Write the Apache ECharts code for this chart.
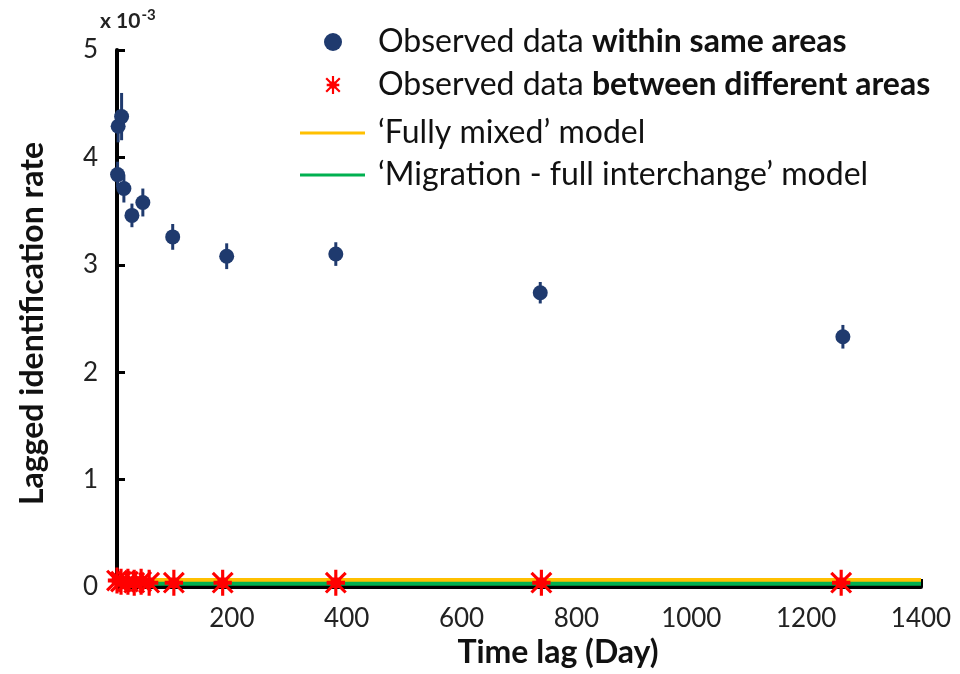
<!DOCTYPE html>
<html>
<head>
<meta charset="utf-8">
<script src="https://cdn.jsdelivr.net/npm/echarts@6/dist/echarts.min.js"></script>
<style>html,body{margin:0;padding:0;background:#fff}#c{width:960px;height:674px}</style>
</head>
<body>
<div id="c"></div>
<script>
// ---- data (values in units of 1e-3) ----
var withinLag = [1, 2, 8, 12, 26, 45, 97, 191, 381, 737, 1264];
var withinRate = [3.84, 4.29, 4.38, 3.71, 3.46, 3.58, 3.26, 3.08, 3.10, 2.74, 2.33];
var withinErr = [0.12, 0.15, 0.22, 0.13, 0.11, 0.13, 0.12, 0.12, 0.11, 0.10, 0.11];
var betweenLag = [0, 7, 19, 30, 42, 56, 99, 184, 381, 739, 1261];
var betweenRate = [0.06, 0.05, 0.05, 0.04, 0.05, 0.04, 0.04, 0.04, 0.04, 0.04, 0.04];
var modelLag = [0, 1400];
var fullyMixedRate = [0.065, 0.065];
var migrationRate = [0.03, 0.03];
var xTicks = [0, 200, 400, 600, 800, 1000, 1200, 1400];
var yTicks = [0, 1, 2, 3, 4, 5];

var names = ['Observed data within same areas', 'Observed data between different areas',
             '\u2018Fully mixed\u2019 model', '\u2018Migration - full interchange\u2019 model'];

function zip(a, b) { return a.map(function (v, i) { return [v, b[i]]; }); }

var FONT = 'Lato';
var BLUE = '#1f3a6e';
var RED = '#ff0000';
var YELLOW = '#ffc000';
var GREEN = '#00b050';

var star = 'path://M8.8 0 L11.2 0 L11.2 20 L8.8 20 Z ' +
  'M3.3 1.6 L18.4 16.7 L16.7 18.4 L1.6 3.3 Z ' +
  'M16.7 1.6 L18.4 3.3 L3.3 18.4 L1.6 16.7 Z ' +
  'M3 8.5 L17 8.5 L17 11.5 L3 11.5 Z ' +
  'M6 6 L14 6 L14 14 L6 14 Z';

var rich = {
  n: { fontFamily: FONT, fontSize: 32, color: '#111', lineHeight: 34 },
  b: { fontFamily: FONT, fontSize: 32, color: '#111', fontWeight: 'bold', lineHeight: 34 }
};
function legendFmt(name) {
  if (name === names[0]) return '{n|Observed data }{b|within same areas}';
  if (name === names[1]) return '{n|Observed data }{b|between different areas}';
  return '{n|' + name + '}';
}

var chart = echarts.init(document.getElementById('c'));
chart.setOption({
  animation: false,
  backgroundColor: '#fff',
  title: {
    text: '{a|x 10}{s|-3}',
    left: 95, top: 3,
    textStyle: {
      rich: {
        a: { fontFamily: FONT, fontSize: 21, color: '#222', verticalAlign: 'bottom', lineHeight: 24 },
        s: { fontFamily: FONT, fontSize: 15, color: '#222', verticalAlign: 'top', lineHeight: 24, padding: [0, 0, 8, 1] }
      }
    }
  },
  legend: [
    {
      orient: 'vertical', left: 319, top: 21,
      itemWidth: 18, itemHeight: 18, itemGap: 11,
      data: [{ name: names[0], icon: 'circle' }, { name: names[1], icon: star }],
      formatter: legendFmt,
      textStyle: { padding: [0, 0, 0, 31], rich: rich }
    },
    {
      orient: 'vertical', left: 295, top: 112,
      itemWidth: 65, itemHeight: 3, itemGap: 10,
      data: [{ name: names[2], icon: 'rect' }, { name: names[3], icon: 'rect' }],
      formatter: legendFmt,
      textStyle: { padding: [0, 0, 0, 8], rich: rich }
    }
  ],
  grid: { left: 117, right: 39, top: 50, bottom: 84, containLabel: false },
  xAxis: {
    type: 'value', min: xTicks[0], max: xTicks[xTicks.length - 1], interval: 200,
    name: 'Time lag (Day)', nameLocation: 'middle', nameGap: 50,
    nameTextStyle: { fontFamily: FONT, fontSize: 32, fontWeight: 'bold', color: '#111', padding: [0, 0, 0, 78] },
    axisLine: { show: true, lineStyle: { color: '#000', width: 4 } },
    axisTick: { show: true, inside: true, length: 8, lineStyle: { color: '#000', width: 3 } },
    axisLabel: {
      fontFamily: FONT, fontSize: 26, color: '#222', margin: 19,
      formatter: function (v) { return v === 0 ? '' : String(v); }
    },
    splitLine: { show: false }
  },
  yAxis: {
    type: 'value', min: yTicks[0], max: yTicks[yTicks.length - 1], interval: 1,
    name: 'Lagged identification rate', nameLocation: 'middle', nameGap: 68, nameRotate: 90,
    nameTextStyle: { fontFamily: FONT, fontSize: 32, fontWeight: 'bold', color: '#111', padding: [0, 10, 0, 0] },
    axisLine: { show: true, onZero: false, lineStyle: { color: '#000', width: 4 } },
    axisTick: { show: true, inside: true, length: 8, lineStyle: { color: '#000', width: 3 } },
    axisLabel: { fontFamily: FONT, fontSize: 26, color: '#222', margin: 19 },
    splitLine: { show: false }
  },
  series: [
    {
      name: names[2], type: 'line', data: zip(modelLag, fullyMixedRate),
      showSymbol: false, symbol: 'none', lineStyle: { color: YELLOW, width: 4 },
      itemStyle: { color: YELLOW }, z: 3
    },
    {
      name: names[3], type: 'line', data: zip(modelLag, migrationRate),
      showSymbol: false, symbol: 'none', lineStyle: { color: GREEN, width: 4 },
      itemStyle: { color: GREEN }, z: 3
    },
    {
      type: 'custom', name: 'err', silent: true, z: 4,
      data: withinLag.map(function (x, i) { return [x, withinRate[i] - withinErr[i], withinRate[i] + withinErr[i]]; }),
      renderItem: function (params, api) {
        var lo = api.coord([api.value(0), api.value(1)]);
        var hi = api.coord([api.value(0), api.value(2)]);
        return { type: 'line', shape: { x1: lo[0], y1: lo[1], x2: hi[0], y2: hi[1] },
                 style: { stroke: BLUE, lineWidth: 3 } };
      }
    },
    {
      name: names[0], type: 'scatter', data: zip(withinLag, withinRate),
      symbol: 'circle', symbolSize: 15, itemStyle: { color: BLUE, opacity: 1 }, z: 5
    },
    {
      name: names[1], type: 'scatter', data: zip(betweenLag, betweenRate),
      symbol: star, symbolSize: [22, 26], itemStyle: { color: RED, opacity: 1 }, z: 6
    }
  ]
});
</script>
</body>
</html>
